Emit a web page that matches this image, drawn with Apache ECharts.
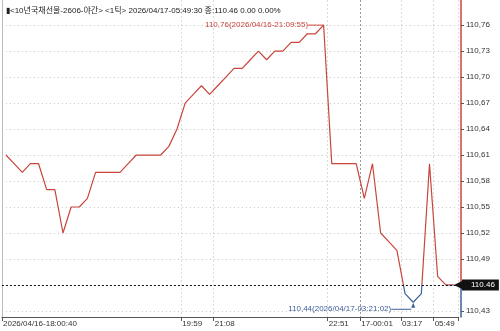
<!DOCTYPE html>
<html>
<head>
<meta charset="utf-8">
<script src="https://cdn.jsdelivr.net/npm/echarts@6/dist/echarts.min.js"></script>
<style>html,body{margin:0;padding:0;background:#fff;}#c{width:500px;height:331px;}</style>
</head>
<body>
<div id="c"></div>
<script>
const titleText = '▮<10년국채선물-2606-야간> <1틱> 2026/04/17-05:49:30 종:110.46 0.00 0.00%';
const prices = [110.61,110.60,110.59,110.60,110.60,110.57,110.57,110.52,110.55,110.55,
  110.56,110.59,110.59,110.59,110.59,110.60,110.61,110.61,110.61,110.61,
  110.62,110.64,110.67,110.68,110.69,110.68,110.69,110.70,110.71,110.71,
  110.72,110.73,110.72,110.73,110.73,110.74,110.74,110.75,110.75,110.76,
  110.60,110.60,110.60,110.60,110.56,110.60,110.52,110.51,110.50,110.45,
  110.44,110.45,110.60,110.47,110.46,110.46];
const xTickIdx = [0, 22, 26, 40, 44, 49, 53];
const xTickText = ['2026/04/16-18:00:40', '19:59', '21:08', '22:51', '17-00:01', '03:17', '05:49'];
const yTicks = [110.43, 110.46, 110.49, 110.52, 110.55, 110.58, 110.61, 110.64, 110.67, 110.70, 110.73, 110.76];
const maxNote = '110,76(2026/04/16-21:09:55)';
const minNote = '110,44(2026/04/17-03:21:02)';
const lastPrice = prices[prices.length - 1];

const FONT = "'Liberation Sans', 'Noto Sans CJK KR', sans-serif";
const FS = 8;
const RED = '#c8453b';
const BLUE = '#3d5f9c';
const Y_MIN = 110.423, Y_MAX = 110.789;
const categories = prices.map((_, i) => String(i));
const showTick = (i) => xTickIdx.indexOf(i) >= 0;
const splitFrac = (Y_MAX - lastPrice) / (Y_MAX - Y_MIN);

const chart = echarts.init(document.getElementById('c'), null, {renderer: 'canvas'});
chart.setOption({
  animation: false,
  textStyle: {fontFamily: FONT},
  title: {
    text: titleText, left: 1, top: 2,
    textStyle: {fontSize: FS, fontWeight: 'normal', color: '#222', fontFamily: FONT}
  },
  grid: {left: 0, right: 42, top: 0, bottom: 14, containLabel: false},
  visualMap: {
    show: false, type: 'piecewise', seriesIndex: 0, dimension: 1,
    pieces: [{gte: Y_MIN - 1, lt: lastPrice, color: BLUE}, {gte: lastPrice, lte: Y_MAX + 1, color: RED}],
    outOfRange: {color: RED}
  },
  xAxis: {
    type: 'category', data: categories, boundaryGap: true,
    axisLine: {lineStyle: {color: '#555'}},
    axisTick: {show: true, interval: showTick, length: 4, lineStyle: {color: '#555'}},
    axisLabel: {
      interval: showTick, align: 'left', padding: [0, 0, 0, -3], margin: 3,
      fontSize: FS, color: '#333', fontFamily: FONT,
      formatter: (v, i) => { const k = xTickIdx.indexOf(i); return k >= 0 ? xTickText[k] : ''; }
    },
    splitLine: {
      show: true, interval: showTick,
      lineStyle: {type: [2, 2], width: 1, color: ['#dcdcdc', '#dcdcdc', '#dcdcdc', '#dcdcdc', '#999', '#dcdcdc', '#dcdcdc', '#dcdcdc']}
    }
  },
  yAxis: [{
    type: 'value', position: 'right', offset: 3, min: Y_MIN, max: Y_MAX,
    axisLine: {show: true, lineStyle: {width: 1.5, color: {
      type: 'linear', x: 0, y: 0, x2: 0, y2: 1,
      colorStops: [{offset: 0, color: RED}, {offset: splitFrac, color: RED},
                   {offset: splitFrac, color: BLUE}, {offset: 1, color: BLUE}]
    }}},
    axisTick: {show: true, length: 3, customValues: yTicks, lineStyle: {color: '#555'}},
    axisLabel: {
      customValues: yTicks, margin: 5, fontSize: FS, color: '#333', fontFamily: FONT,
      formatter: (v) => v.toFixed(2).replace('.', ',')
    },
    splitLine: {show: true, lineStyle: {type: [1, 3], color: '#c8c8c8'}}
  }, {
    type: 'value', position: 'left', min: Y_MIN, max: Y_MAX,
    axisLine: {show: true, lineStyle: {color: '#bbb'}},
    axisTick: {show: false}, axisLabel: {show: false}, splitLine: {show: false}
  }],
  series: [{
    type: 'line', data: prices, yAxisIndex: 0,
    symbol: 'none', lineStyle: {width: 1.2},
    markLine: {
      silent: true, symbol: ['none', 'path://M0,10 L-6,0 L6,0 Z'], symbolSize: [8, 8],
      data: [{yAxis: lastPrice}],
      lineStyle: {color: '#111', type: [2, 2], width: 1},
      itemStyle: {color: '#111'},
      label: {
        position: 'end', distance: 4, formatter: lastPrice.toFixed(2),
        backgroundColor: '#111', color: '#fff', padding: [2, 4, 1, 9],
        fontSize: FS, fontFamily: FONT
      }
    },
    markPoint: {
      silent: true,
      data: [{
        type: 'max', symbol: 'circle', symbolSize: 1, itemStyle: {color: RED},
        label: {
          position: 'left', distance: 0,
          formatter: '{t|' + maxNote + '}{l|}',
          rich: {t: {color: RED, fontSize: FS, fontFamily: FONT}, l: {width: 15, height: 1, backgroundColor: RED}}
        }
      }, {
        type: 'min', symbol: 'triangle', symbolSize: [4, 5], symbolOffset: [0, 3], itemStyle: {color: BLUE},
        label: {
          position: 'left', distance: 0, offset: [0, 4],
          formatter: '{t|' + minNote + '}{l|}',
          rich: {t: {color: BLUE, fontSize: FS, fontFamily: FONT}, l: {width: 20, height: 1, backgroundColor: BLUE}}
        }
      }]
    }
  }]
});
</script>
</body>
</html>
